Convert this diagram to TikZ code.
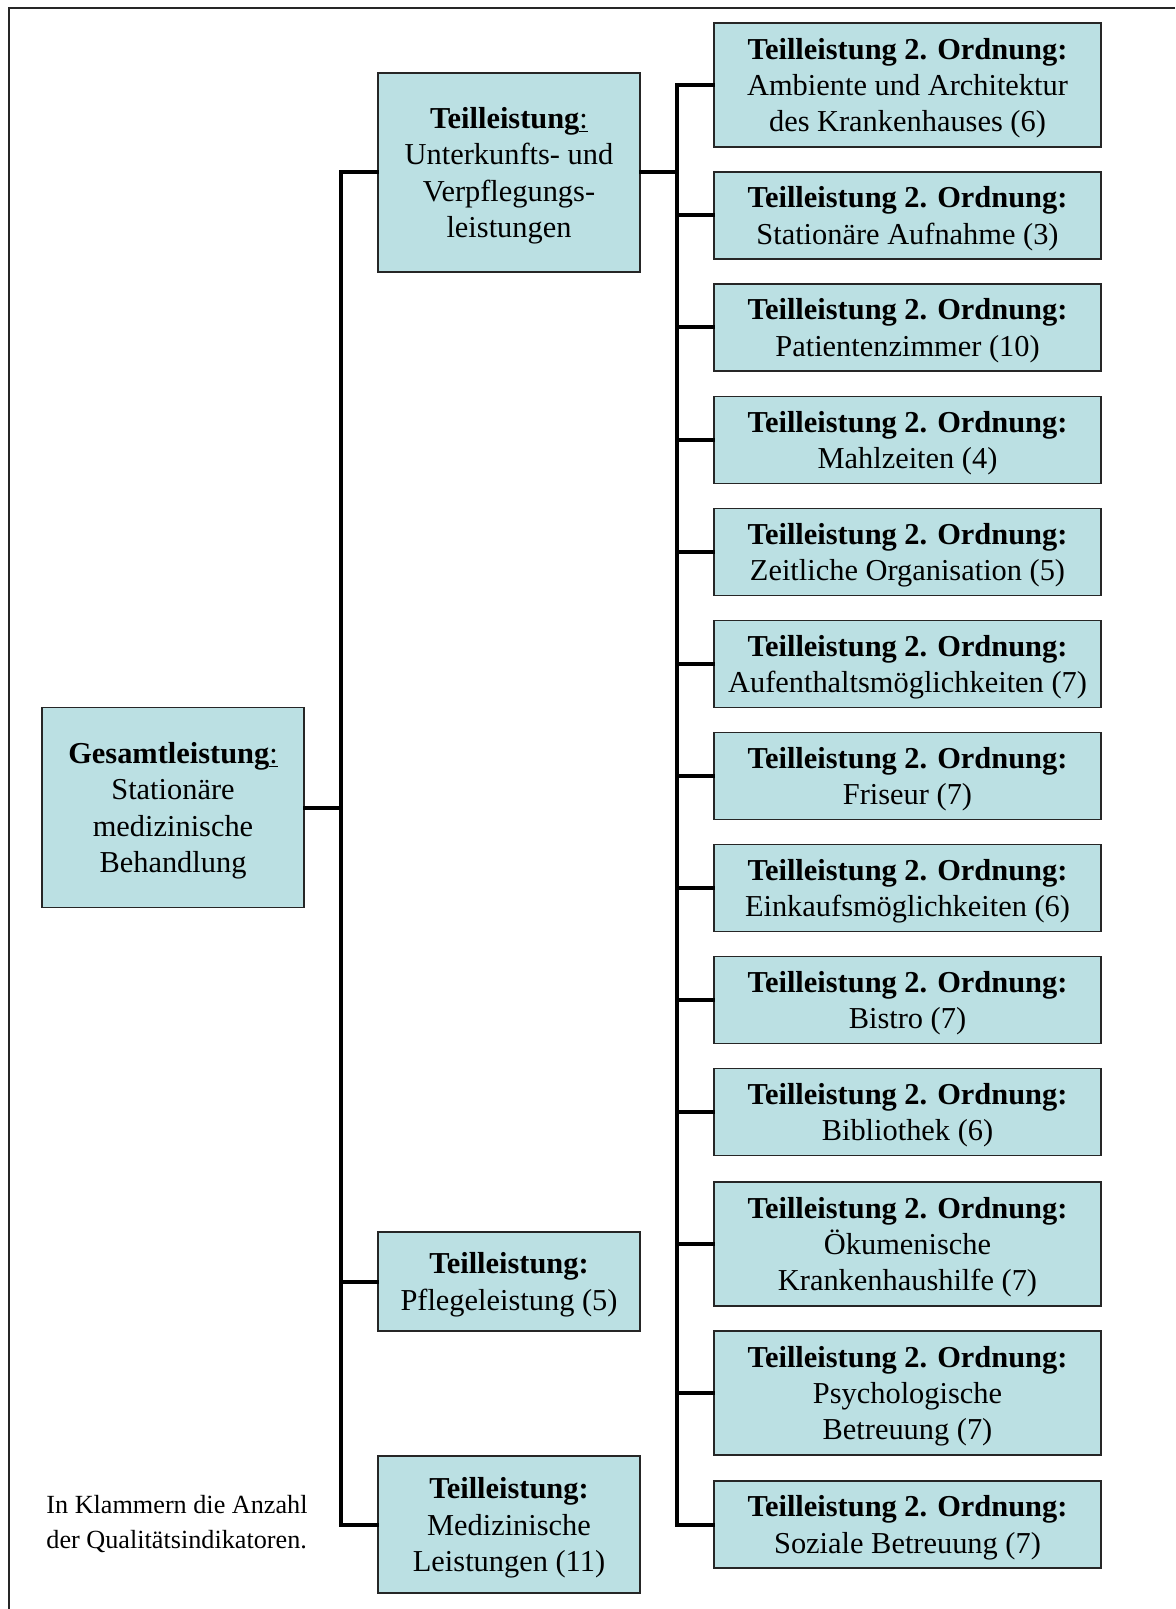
\documentclass[tikz,border=0pt]{standalone}
\usepackage{fontspec}
\setmainfont{Liberation Serif}
\usetikzlibrary{calc}
\definecolor{boxcol}{RGB}{187,224,227}

\begin{document}
\begin{tikzpicture}[x=0.5pt,y=-0.5pt,
  box/.style={draw=black!85,line width=0.75pt,fill=boxcol,align=center,inner sep=0pt,
    font=\fontsize{15.2}{18.2}\selectfont,text depth=-0.6pt},
  conn/.style={line width=2pt,line cap=rect}]
\useasboundingbox (0,0) rectangle (1175,1609);
\draw[line width=0.8pt,black!85] (1175,8) -- (9,8) -- (9,1609);
\coordinate (k1) at (341,0);
\coordinate (k2) at (677,0);
\node[box,minimum width=131pt,minimum height=100pt] (G) at (173,807.5)
  {\textbf{Gesamtleistung}\underline{:}\\Stationäre\\medizinische\\Behandlung};
\node[box,minimum width=131pt,minimum height=99.5pt] (T1) at (509,172.5)
  {\textbf{Teilleistung}\underline{:}\\Unterkunfts- und\\Verpflegungs-\\leistungen};
\node[box,minimum width=131pt,minimum height=49.5pt] (T2) at (509,1281.5)
  {\textbf{Teilleistung:}\\Pflegeleistung (5)};
\node[box,minimum width=131pt,minimum height=68.5pt] (T3) at (509,1524.5)
  {\textbf{Teilleistung:}\\Medizinische\\Leistungen (11)};
\foreach \n/\y/\h/\txt in {
  1/85/62/{Ambiente und Architektur\\des Krankenhauses (6)},
  2/215.5/43.5/{Stationäre Aufnahme (3)},
  3/327.5/43.5/{Patientenzimmer (10)},
  4/440/43.5/{Mahlzeiten (4)},
  5/552/43.5/{Zeitliche Organisation (5)},
  6/664/43.5/{Aufenthaltsmöglichkeiten (7)},
  7/776/43.5/{Friseur (7)},
  8/888/43.5/{Einkaufsmöglichkeiten (6)},
  9/1000/43.5/{Bistro (7)},
  10/1112/43.5/{Bibliothek (6)},
  11/1244/62/{Ökumenische\\Krankenhaushilfe (7)},
  12/1393/62/{Psychologische\\Betreuung (7)},
  13/1524.5/43.5/{Soziale Betreuung (7)}}
  \node[box,minimum width=193.5pt,minimum height=\h pt] (S\n) at (907.5,\y)
    {\textbf{Teilleistung 2. Ordnung:}\\\txt};
\node[anchor=west,align=left,inner sep=0pt,font=\fontsize{13.1}{17.5}\selectfont] (note) at (46,1524)
  {In Klammern die Anzahl\\der Qualitätsindikatoren.};
\draw[conn] (G.east) -- (k1 |- G.east);
\draw[conn] (T1.west) -- (k1 |- T1.west) -- (k1 |- T3.west) -- (T3.west);
\draw[conn] (k1 |- T2.west) -- (T2.west);
\draw[conn] (T1.east) -- (k2 |- T1.east);
\draw[conn] (S1.west) -- (k2 |- S1.west) -- (k2 |- S13.west) -- (S13.west);
\foreach \n in {2,...,12} \draw[conn] (k2 |- S\n.west) -- (S\n.west);
\end{tikzpicture}
\end{document}
